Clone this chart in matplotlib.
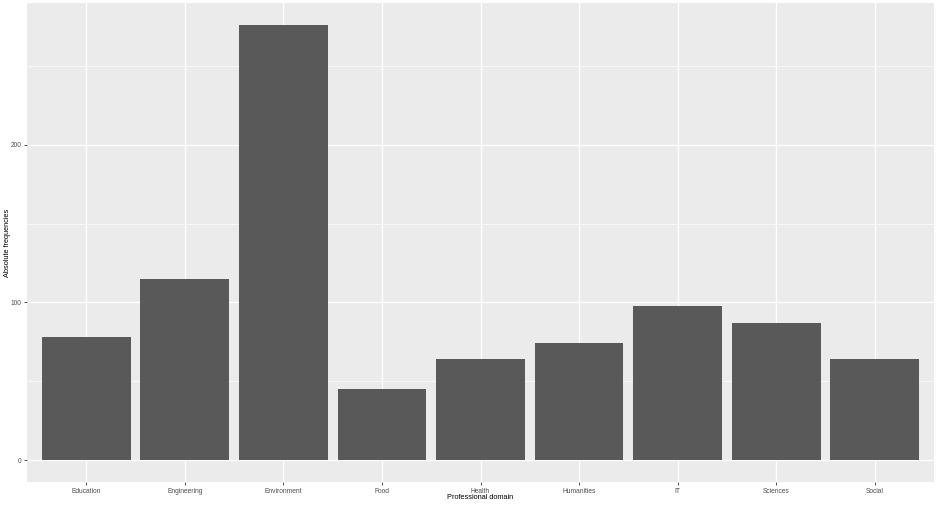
import matplotlib
matplotlib.use("Agg")
import matplotlib.pyplot as plt
from matplotlib.ticker import MultipleLocator

plt.rcParams['font.family'] = ['Liberation Sans', 'DejaVu Sans']

categories = ["Education", "Engineering", "Environment", "Food", "Health",
              "Humanities", "IT", "Sciences", "Social"]
counts = [78, 115, 276, 45, 64, 74, 98, 87, 64]
y_ticks = [0, 100, 200]

fig = plt.figure(figsize=(9.4, 5.05), dpi=100)
ax = fig.add_axes([27/940, 1 - 482/505, (934 - 27)/940, (482 - 3)/505])
ax.set_facecolor("#EBEBEB")

x = list(range(len(categories)))
ax.bar(x, counts, width=0.9, color="#595959", zorder=3)

ymax = max(counts)
ax.set_ylim(-0.05 * ymax, ymax * 1.05)
ax.set_xlim(-0.6, len(categories) - 0.4)

ax.set_xticks(x)
ax.set_xticklabels(categories)
ax.set_yticks(y_ticks)
ax.yaxis.set_minor_locator(MultipleLocator(50))

ax.grid(which="major", color="white", linewidth=1.0, zorder=0)
ax.grid(which="minor", axis="y", color="white", linewidth=0.5, zorder=0)
ax.set_axisbelow(True)

for s in ax.spines.values():
    s.set_visible(False)

ax.tick_params(axis="both", which="major", length=2.5, width=0.6, color="#333333",
               labelsize=4.8, labelcolor="#4D4D4D", pad=1.5)
ax.tick_params(axis="both", which="minor", length=0)

ax.set_xlabel("Professional domain", fontsize=5.3)
ax.set_ylabel("Absolute frequencies", fontsize=5.3)
ax.xaxis.set_label_coords(0.5, (482 - 497.5) / 479, transform=ax.transAxes)
ax.yaxis.set_label_coords((8 - 27) / 907, 0.5, transform=ax.transAxes)
ax.xaxis.label.set_va("center")
ax.yaxis.label.set_va("center")

fig.savefig("out.png", dpi=100, facecolor="white")
